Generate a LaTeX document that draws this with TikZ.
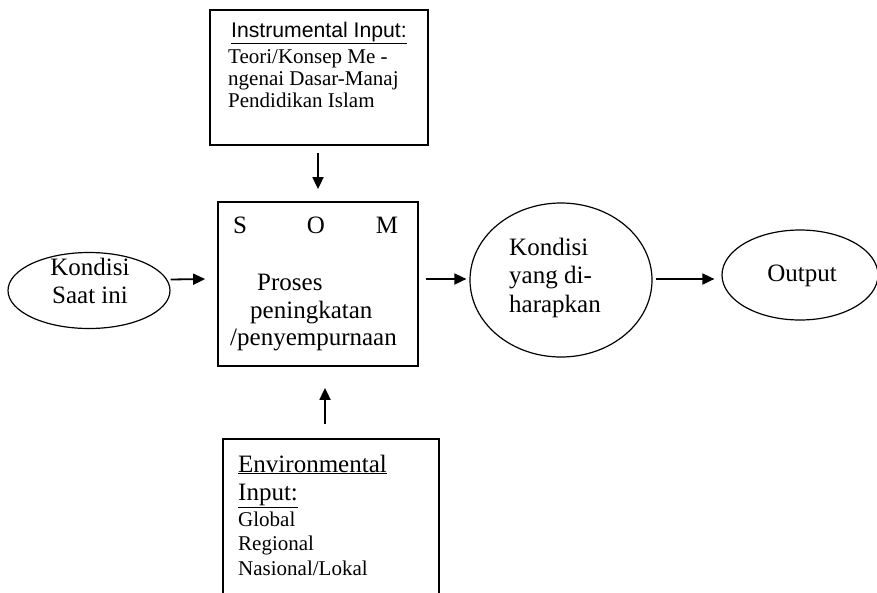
\documentclass[tikz,border=0pt]{standalone}
\usepackage{fontspec}
\setmainfont{Liberation Serif}
\newfontfamily\arialf{Liberation Sans}
\usetikzlibrary{arrows.meta,shapes.geometric}
\begin{document}
\begin{tikzpicture}[x=1pt,y=-1pt,
  box/.style={draw, line width=1.8pt, inner sep=0pt},
  oval/.style={draw, ellipse, line width=1.2pt, inner sep=0pt},
  arr/.style={line width=1.8pt, -{Triangle[length=12pt,width=11pt]}},
  big/.style={font=\fontsize{25}{28}\selectfont},
  small/.style={font=\fontsize{21}{22}\selectfont},
  sans/.style={font=\arialf\fontsize{21.2}{24}\selectfont},
  tl/.style={anchor=base west, inner sep=0pt},
  tc/.style={anchor=base, inner sep=0pt}]
\useasboundingbox (0,0) rectangle (877,592);
\clip (0,0) rectangle (877,592);
% boxes and ellipses
\node[box, minimum width=218pt, minimum height=135pt] (instr) at (319,77.5) {};
\node[box, minimum width=200pt, minimum height=164pt] (proses) at (318,284) {};
\node[box, minimum width=216pt, minimum height=181pt] (env) at (331,529.5) {};
\node[oval, minimum width=162pt, minimum height=76pt] (now) at (89,290.5) {};
\node[oval, minimum width=182pt, minimum height=154pt] (harap) at (561,280) {};
\node[oval, minimum width=156pt, minimum height=90pt] (out) at (800,275) {};
% texts: instrumental input
\node[tl, sans] (t1) at (231,37) {\underline{Instrumental Input:}};
\node[tl, small] (t2) at (228,63) {Teori/Konsep Me -};
\node[tl, small] (t3) at (228,85) {ngenai Dasar-Manaj};
\node[tl, small] (t4) at (228,107) {Pendidikan Islam};
% texts: process
\node[tc, big] (s) at (240,233) {S};
\node[tc, big] (o) at (316,233) {O};
\node[tc, big] (m) at (387,233) {M};
\node[tl, big] (p1) at (257,290) {Proses};
\node[tl, big] (p2) at (250,318) {peningkatan};
\node[tl, big] (p3) at (230,345) {/penyempurnaan};
% texts: ellipses
\node[tc, big] (k1) at (90,275) {Kondisi};
\node[tc, big] (k2) at (90,303) {Saat ini};
\node[tl, big] (h1) at (509,255) {Kondisi};
\node[tl, big] (h2) at (509,283) {yang di-};
\node[tl, big] (h3) at (509,312) {harapkan};
\node[tc, big] (o1) at (802,281) {Output};
% texts: environmental input
\node[tl, big] (e1) at (238,472) {\underline{Environmental}};
\node[tl, big] (e2) at (238,500) {\underline{Input:}};
\node[tl, small] (e3) at (238,526) {Global};
\node[tl, small] (e4) at (238,550) {Regional};
\node[tl, small] (e5) at (238,575) {Nasional/Lokal};
% arrows
\draw[arr] ([yshift=11pt]now.east) -- ([xshift=-12pt,yshift=5pt]proses.west);
\draw[arr] ([xshift=7pt,yshift=5pt]proses.east) -- ([xshift=-3pt,yshift=1pt]harap.west);
\draw[arr] ([xshift=3pt,yshift=1pt]harap.east) -- ([xshift=-7pt,yshift=-4pt]out.west);
\draw[arr] ([xshift=-1pt,yshift=-7pt]instr.south) -- ([yshift=12pt]proses.north);
\draw[arr] ([xshift=-6pt,yshift=14pt]env.north) -- ([xshift=7pt,yshift=-21pt]proses.south);
\end{tikzpicture}
\end{document}
